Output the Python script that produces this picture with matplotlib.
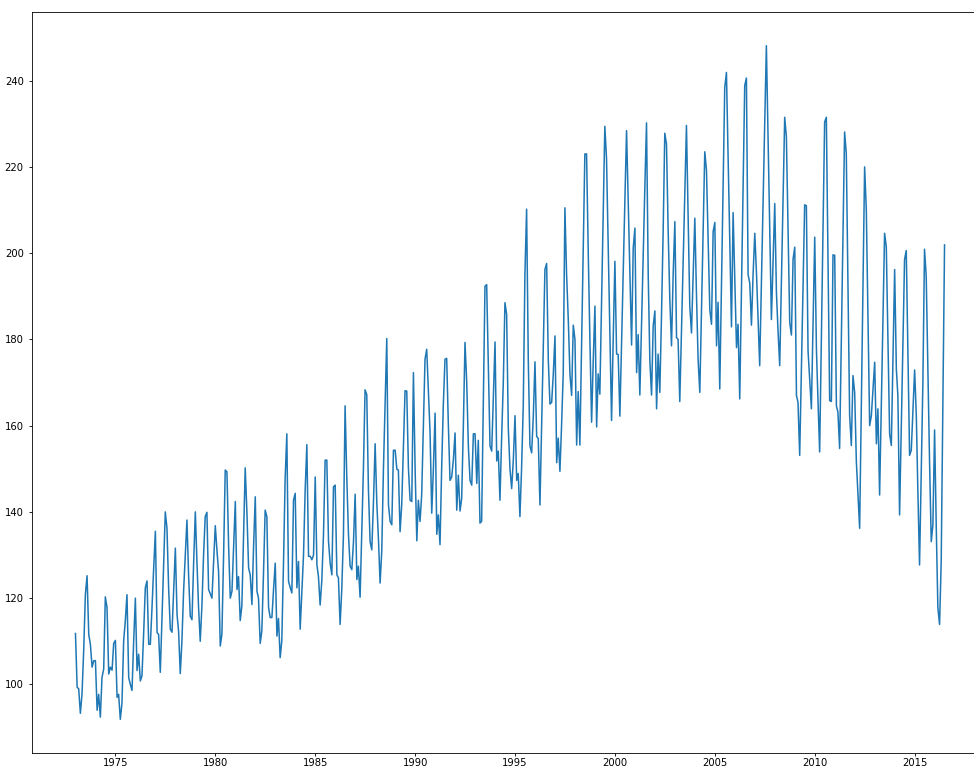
import matplotlib
matplotlib.use("Agg")
import matplotlib.pyplot as plt
import matplotlib.dates as mdates
import pandas as pd

# monthly values, Jan 1973 .. Jul 2016
y1973 = [111.8, 99.3, 99.0, 93.3, 97.8, 108.0, 120.8, 125.2, 111.6, 109.3, 104.0, 105.5]
y1974 = [105.5, 94.0, 97.7, 92.4, 101.6, 103.5, 120.3, 117.8, 102.4, 104.0, 103.3, 109.5]
y1975 = [110.2, 97.0, 97.7, 91.9, 95.6, 110.0, 114.7, 120.8, 101.6, 100.0, 98.6, 110.0]
y1976 = [120.0, 103.2, 107.0, 100.8, 102.0, 112.0, 122.4, 124.0, 109.3, 109.3, 118.0, 127.0]
y1977 = [135.5, 112.0, 111.6, 102.8, 115.0, 128.0, 140.0, 136.2, 122.0, 112.8, 112.1, 122.0]
y1978 = [131.6, 116.2, 112.4, 102.5, 110.0, 121.7, 130.0, 138.1, 125.0, 115.8, 115.0, 128.0]
y1979 = [140.0, 128.0, 118.0, 110.0, 118.0, 130.0, 138.9, 139.9, 122.0, 121.0, 120.0, 128.0]
y1980 = [136.8, 131.0, 126.2, 108.9, 111.6, 130.0, 149.7, 149.3, 132.0, 120.0, 121.6, 132.0]
y1981 = [142.4, 122.0, 125.0, 114.8, 118.2, 135.0, 150.2, 140.0, 127.0, 125.4, 118.5, 132.0]
y1982 = [143.5, 121.6, 120.0, 109.5, 112.4, 126.0, 140.4, 138.9, 117.8, 115.5, 115.5, 122.0]
y1983 = [128.1, 111.2, 115.3, 106.2, 110.1, 128.0, 147.7, 158.1, 123.9, 122.5, 121.2, 142.7]
y1984 = [144.3, 122.4, 128.5, 112.8, 121.0, 130.0, 145.0, 155.6, 129.7, 129.7, 128.9, 130.0]
y1985 = [148.1, 127.7, 125.0, 118.4, 124.0, 134.7, 152.0, 152.0, 133.1, 128.1, 125.4, 145.8]
y1986 = [146.2, 125.4, 124.7, 113.9, 122.0, 134.7, 164.6, 148.0, 134.7, 127.4, 126.6, 133.0]
y1987 = [144.1, 124.3, 127.4, 120.2, 135.0, 150.0, 168.3, 167.2, 145.0, 133.1, 131.2, 142.0]
y1988 = [155.8, 142.0, 133.9, 123.5, 130.8, 150.0, 165.0, 180.2, 141.6, 137.8, 137.0, 154.3]
y1989 = [154.3, 149.9, 149.7, 135.4, 141.6, 155.0, 168.1, 168.0, 150.0, 142.7, 142.4, 172.3]
y1990 = [150.0, 133.3, 142.7, 137.8, 143.9, 160.0, 175.4, 177.7, 168.0, 158.5, 139.7, 150.0]
y1991 = [162.9, 134.8, 139.3, 132.4, 150.0, 165.0, 175.4, 175.6, 160.0, 147.3, 148.1, 152.0]
y1992 = [158.3, 140.4, 148.5, 140.2, 143.1, 160.0, 179.3, 170.1, 155.0, 147.3, 146.2, 158.1]
y1993 = [158.1, 146.6, 156.6, 137.4, 137.8, 165.0, 192.3, 192.7, 173.9, 155.3, 154.1, 166.6]
y1994 = [179.4, 151.8, 154.1, 142.7, 157.0, 170.0, 188.5, 185.8, 159.3, 150.0, 145.4, 152.0]
y1995 = [162.3, 147.3, 148.9, 138.9, 150.0, 164.6, 195.0, 210.2, 175.0, 155.3, 153.7, 162.0]
y1996 = [174.8, 157.5, 157.0, 141.6, 160.0, 180.0, 196.2, 197.6, 175.0, 165.0, 165.4, 172.0]
y1997 = [180.8, 151.4, 157.1, 149.4, 160.0, 172.3, 210.5, 195.0, 184.6, 172.0, 167.0, 183.3]
y1998 = [180.0, 155.5, 167.9, 155.5, 178.0, 200.0, 223.0, 223.0, 200.0, 180.0, 160.8, 175.0]
y1999 = [187.7, 159.7, 172.0, 167.3, 188.0, 208.0, 229.4, 221.9, 201.7, 181.5, 161.2, 180.0]
y2000 = [198.1, 176.6, 176.5, 162.2, 178.8, 195.4, 211.9, 228.4, 211.8, 195.2, 178.7, 201.2]
y2001 = [205.8, 172.3, 181.1, 167.1, 183.0, 200.0, 215.0, 230.2, 195.0, 175.0, 167.1, 183.1]
y2002 = [186.6, 163.9, 176.6, 167.7, 185.0, 205.0, 227.8, 225.3, 205.0, 189.3, 178.5, 195.0]
y2003 = [207.3, 180.4, 180.0, 165.6, 181.6, 197.6, 213.6, 229.6, 208.6, 187.7, 181.5, 194.8]
y2004 = [208.1, 190.0, 175.4, 167.7, 186.3, 204.9, 223.5, 219.2, 203.0, 186.9, 183.5, 205.0]
y2005 = [207.1, 178.5, 188.6, 168.5, 191.8, 215.1, 238.4, 241.9, 222.2, 202.6, 182.9, 209.4]
y2006 = [193.9, 178.1, 183.5, 166.2, 190.4, 214.6, 238.8, 240.6, 195.0, 193.1, 183.3, 195.0]
y2007 = [204.6, 195.4, 185.0, 173.9, 192.5, 211.0, 229.6, 248.1, 227.0, 206.0, 184.6, 198.0]
y2008 = [211.5, 190.8, 182.0, 173.9, 193.1, 212.3, 231.5, 226.9, 205.0, 183.9, 181.0, 198.6]
y2009 = [201.4, 167.0, 165.4, 153.1, 172.5, 191.8, 211.2, 211.0, 177.3, 170.6, 163.9, 184.0]
y2010 = [203.7, 177.7, 166.0, 153.9, 179.4, 204.9, 230.4, 231.5, 198.7, 165.8, 165.6, 199.6]
y2011 = [199.5, 164.6, 163.1, 154.7, 179.2, 203.6, 228.1, 223.1, 192.7, 162.3, 155.4, 171.6]
y2012 = [167.7, 151.6, 143.9, 136.2, 164.1, 192.0, 220.0, 210.0, 185.0, 160.0, 162.3, 168.5]
y2013 = [174.7, 155.8, 163.9, 143.9, 164.1, 184.4, 204.6, 201.5, 179.8, 158.1, 155.4, 175.8]
y2014 = [196.2, 173.1, 166.9, 139.3, 159.0, 178.8, 198.5, 200.6, 176.9, 153.1, 154.3, 163.6]
y2015 = [172.9, 162.3, 145.0, 127.7, 149.0, 170.0, 200.9, 194.6, 173.1, 151.6, 133.1, 137.0]
y2016 = [159.0, 136.2, 117.8, 113.9, 128.5, 165.0, 201.9]

years = [y1973, y1974, y1975, y1976, y1977, y1978, y1979, y1980, y1981, y1982,
         y1983, y1984, y1985, y1986, y1987, y1988, y1989, y1990, y1991, y1992,
         y1993, y1994, y1995, y1996, y1997, y1998, y1999, y2000, y2001, y2002,
         y2003, y2004, y2005, y2006, y2007, y2008, y2009, y2010, y2011, y2012,
         y2013, y2014, y2015, y2016]
values = [v for yr in years for v in yr]
dates = pd.date_range("1973-01-01", periods=len(values), freq="MS")

W, H = 974, 769
fig = plt.figure(figsize=(W / 100, H / 100), dpi=100)
# axes runs past the right edge like the (cropped) original
ax = fig.add_axes([32 / W, 16 / H, 956 / W, 741 / H])
ax.plot(dates, values, color="#1f77b4", lw=1.1)

ax.xaxis.set_major_locator(mdates.YearLocator(5))
ax.xaxis.set_major_formatter(mdates.DateFormatter("%Y"))
ax.tick_params(labelsize=7.2, length=2.5, width=0.6)
ax.tick_params(axis="x", pad=0.8)
for s in ax.spines.values():
    s.set_linewidth(0.6)

fig.savefig("out.png", dpi=100)
